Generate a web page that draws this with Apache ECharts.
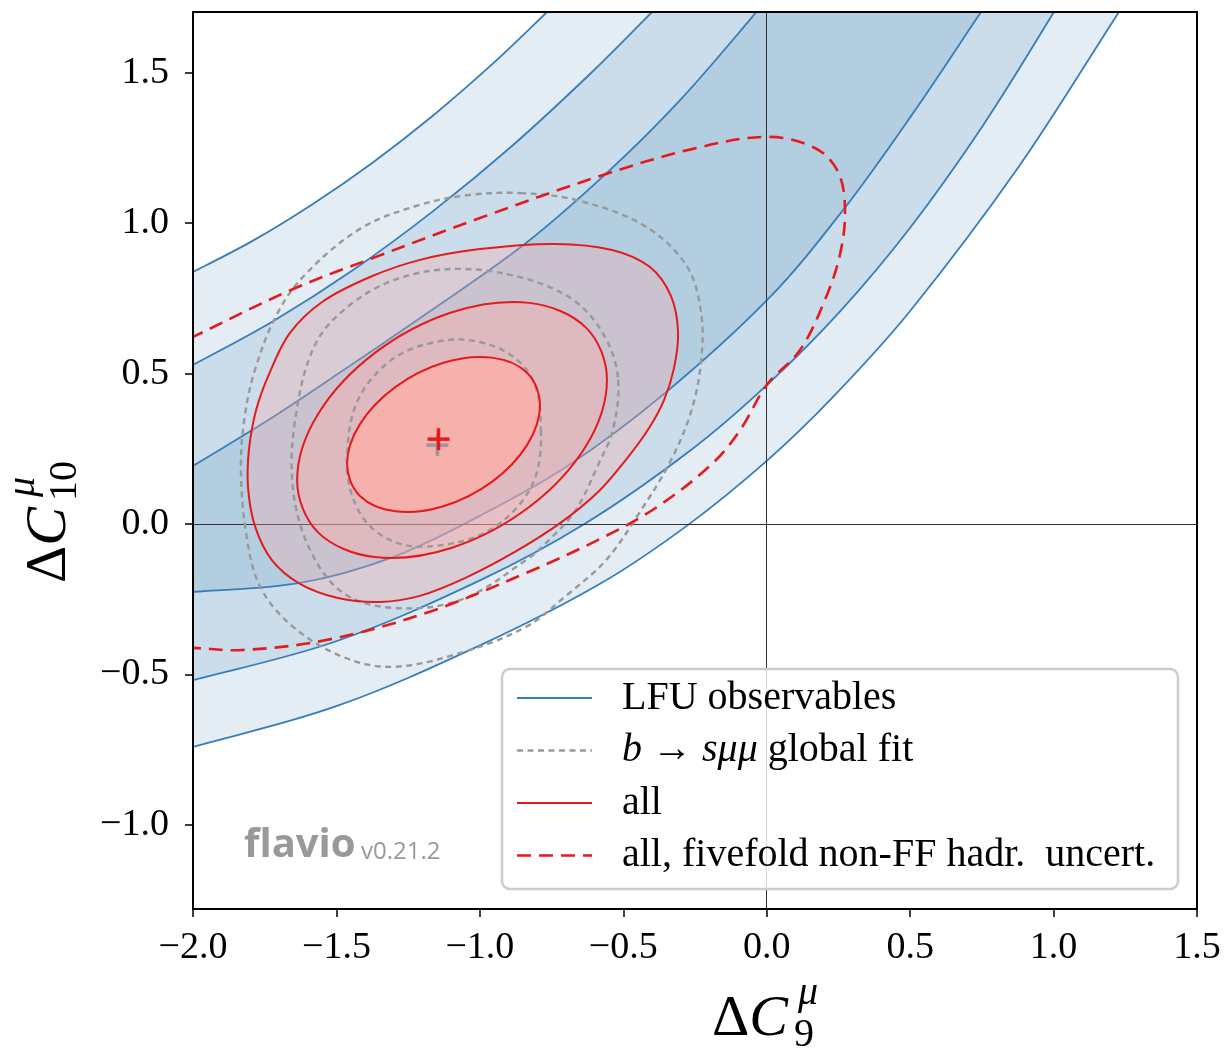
<!DOCTYPE html>
<html>
<head>
<meta charset="utf-8">
<title>LFU observables / b→sμμ fit</title>
<script src="https://cdn.jsdelivr.net/npm/echarts@6/dist/echarts.min.js"></script>
<style>
  html, body { margin: 0; padding: 0; background: #fff; }
  #chart { width: 1224px; height: 1051px; }
</style>
</head>
<body>
<div id="chart"></div>
<script>
var xTicks = [-2, -1.5, -1, -0.5, 0, 0.5, 1, 1.5];
var yTicks = [-1, -0.5, 0, 0.5, 1, 1.5];

// LFU observables: band edges, upper-left side (3σ, 2σ, 1σ)
var lfuA = [[-2.07,0.807],[-2,0.838],[-1.791,0.942],[-1.582,1.064],[-1.373,1.202],[-1.163,1.358],[-0.954,1.531],[-0.766,1.702],[-0.675,1.788]];
var lfuB = [[-2.07,0.496],[-2,0.529],[-1.721,0.674],[-1.442,0.844],[-1.163,1.040],[-0.884,1.260],[-0.606,1.505],[-0.400,1.702],[-0.292,1.811]];
var lfuC = [[-2.07,0.150],[-2,0.193],[-1.75,0.338],[-1.501,0.495],[-1.188,0.698],[-0.839,0.934],[-0.546,1.177],[-0.302,1.409],[-0.051,1.685],[0.050,1.805]];
// lower-right side (1σ, 2σ, 3σ)
var lfuD = [[-2.07,-0.229],[-2,-0.226],[-1.627,-0.196],[-1.303,-0.110],[-1.000,0.027],[-0.700,0.189],[-0.362,0.429],[0.005,0.748],[0.269,1.047],[0.506,1.360],[0.747,1.702],[0.813,1.795]];
var lfuE = [[-2.07,-0.532],[-2,-0.519],[-1.498,-0.389],[-0.996,-0.186],[-0.630,0.003],[-0.264,0.246],[0.004,0.465],[0.255,0.706],[0.500,0.985],[0.754,1.325],[0.998,1.697],[1.085,1.841]];
var lfuF = [[-2.07,-0.755],[-2,-0.741],[-1.498,-0.605],[-0.996,-0.402],[-0.581,-0.199],[-0.274,-0.003],[0.004,0.213],[0.228,0.419],[0.500,0.708],[0.876,1.184],[1.228,1.702],[1.301,1.809]];

// b -> s mu mu global fit (1σ, 2σ, 3σ)
var globIn = [[-0.787,0.313],[-0.804,0.163],[-0.878,0.047],[-1.000,-0.037],[-1.156,-0.073],[-1.278,-0.066],[-1.383,-0.007],[-1.446,0.096],[-1.463,0.229],[-1.425,0.412],[-1.303,0.549],[-1.139,0.608],[-1.000,0.605],[-0.878,0.552],[-0.808,0.462]];
var globMid = [[-0.518,0.479],[-0.536,0.313],[-0.588,0.196],[-0.665,0.047],[-0.750,-0.045],[-0.839,-0.120],[-1.069,-0.253],[-1.303,-0.279],[-1.477,-0.229],[-1.592,-0.086],[-1.651,0.113],[-1.644,0.346],[-1.575,0.595],[-1.453,0.728],[-1.278,0.818],[-1.069,0.848],[-0.839,0.815],[-0.665,0.738],[-0.560,0.615]];
var globOut = [[-0.860,1.100],[-0.665,1.077],[-0.431,0.994],[-0.281,0.861],[-0.229,0.705],[-0.229,0.539],[-0.264,0.372],[-0.337,0.206],[-0.442,0.040],[-0.560,-0.120],[-0.700,-0.239],[-0.839,-0.342],[-1.069,-0.429],[-1.303,-0.475],[-1.477,-0.442],[-1.651,-0.342],[-1.766,-0.209],[-1.815,-0.030],[-1.833,0.189],[-1.819,0.362],[-1.784,0.512],[-1.714,0.685],[-1.617,0.821],[-1.418,0.981],[-1.209,1.061],[-1.034,1.094]];

// all (1σ, 2σ, 3σ)
var allIn = [[-0.790,0.396],[-0.835,0.263],[-0.958,0.140],[-1.127,0.059],[-1.295,0.042],[-1.418,0.093],[-1.463,0.199],[-1.418,0.332],[-1.295,0.455],[-1.127,0.536],[-0.958,0.553],[-0.835,0.502]];
var allMid = [[-0.557,0.479],[-0.629,0.261],[-0.827,0.057],[-1.097,-0.079],[-1.367,-0.110],[-1.565,-0.027],[-1.637,0.146],[-1.565,0.364],[-1.367,0.568],[-1.097,0.704],[-0.827,0.735],[-0.629,0.652]];
var allOut = [[-0.738,0.931],[-0.539,0.911],[-0.407,0.854],[-0.334,0.758],[-0.309,0.638],[-0.323,0.519],[-0.358,0.412],[-0.414,0.313],[-0.491,0.213],[-0.588,0.106],[-0.714,0.007],[-0.878,-0.093],[-1.052,-0.180],[-1.209,-0.239],[-1.348,-0.259],[-1.495,-0.246],[-1.627,-0.199],[-1.725,-0.120],[-1.784,-0.007],[-1.808,0.120],[-1.805,0.246],[-1.780,0.379],[-1.732,0.505],[-1.662,0.635],[-1.550,0.738],[-1.383,0.821],[-1.209,0.878],[-1.000,0.914]];

// all, fivefold non-FF hadronic uncertainties
var allFive = [[-2.08,0.585],[-2.000,0.622],[-1.651,0.781],[-1.362,0.888],[-1.000,1.017],[-0.571,1.160],[-0.257,1.247],[0.000,1.287],[0.168,1.250],[0.249,1.170],[0.273,1.044],[0.255,0.894],[0.203,0.745],[0.116,0.578],[0.000,0.462],[-0.090,0.316],[-0.184,0.206],[-0.372,0.063],[-0.567,-0.043],[-0.839,-0.163],[-1.188,-0.296],[-1.536,-0.386],[-1.826,-0.419],[-2.000,-0.412],[-2.08,-0.409]];

var bestAll = [-1.144, 0.282];
var bestGlobal = [-1.148, 0.262];

var legendLabels = ['LFU observables', '{i|b} \u2192 {i|s\u03bc\u03bc} global fit', 'all', 'all, fivefold non-FF hadr.  uncert.'];

var BLUE = '#377eb8', RED = '#e41a1c', GRAY = '#999999';
var SERIF = "'Liberation Serif', 'DejaVu Serif', serif";

function band(a, b) { return a.concat(b.slice().reverse()); }

function shape(name, pts, z, closed, style) {
  return {
    type: 'custom',
    name: name,
    z: z,
    silent: true,
    clip: true,
    data: [pts[0]],
    encode: { x: 0, y: 1 },
    renderItem: function (params, api) {
      return {
        type: closed ? 'polygon' : 'polyline',
        shape: { points: pts.map(function (p) { return api.coord(p); }), smooth: 0.35 },
        style: style
      };
    }
  };
}

function plus(name, pt, color, z) {
  return {
    type: 'custom', name: name, z: z, silent: true, clip: true,
    data: [pt], encode: { x: 0, y: 1 },
    renderItem: function (params, api) {
      var c = api.coord([api.value(0), api.value(1)]);
      var h = 11;
      return {
        type: 'group',
        children: [
          { type: 'line', shape: { x1: c[0] - h, y1: c[1], x2: c[0] + h, y2: c[1] }, style: { stroke: color, lineWidth: 3.5 } },
          { type: 'line', shape: { x1: c[0], y1: c[1] - h, x2: c[0], y2: c[1] + h }, style: { stroke: color, lineWidth: 3.5 } }
        ]
      };
    }
  };
}

function line(style) { return Object.assign({ fill: 'none' }, style); }

var blueLine = { stroke: BLUE, lineWidth: 1.8 };
var grayLine = { stroke: GRAY, lineWidth: 2.4, lineDash: [6, 4.5] };
var redLine = { stroke: RED, lineWidth: 2 };
var redDash = { stroke: RED, lineWidth: 2.6, lineDash: [14, 8] };

var fmt = function (v) {
  return (v < -1e-9 ? '\u2212' : '') + Math.abs(v).toFixed(1);
};

var series = [
  shape('LFU 3σ', band(lfuA, lfuF), 1, true, { fill: '#e4ecf4' }),
  shape('LFU 2σ', band(lfuB, lfuE), 2, true, { fill: '#cbdcea' }),
  shape('LFU 1σ', band(lfuC, lfuD), 3, true, { fill: '#b3cde1' })
];
[lfuA, lfuB, lfuC, lfuD, lfuE, lfuF].forEach(function (l, i) {
  series.push(shape('LFU line ' + i, l, 4, false, line(blueLine)));
});
series.push(shape('all 3σ fill', allOut, 5, true, { fill: 'rgba(255,170,165,0.3)' }));
series.push(shape('all 2σ fill', allMid, 5, true, { fill: 'rgba(255,170,165,0.38)' }));
series.push(shape('all 1σ fill', allIn, 5, true, { fill: 'rgba(250,176,170,0.9)' }));
[globOut, globMid, globIn].forEach(function (l, i) {
  series.push(shape('global ' + i, l, 6, true, line(grayLine)));
});
[allOut, allMid, allIn].forEach(function (l, i) {
  series.push(shape('all ' + i, l, 7, true, line(redLine)));
});
series.push(shape('all fivefold', allFive, 8, false, line(redDash)));
series.push({
  type: 'line', name: 'zero', data: [], z: 9, silent: true,
  markLine: {
    silent: true, symbol: 'none', animation: false,
    label: { show: false },
    lineStyle: { color: '#333', width: 1, type: 'solid' },
    data: [{ xAxis: 0 }, { yAxis: 0 }]
  }
});
series.push(plus('best global', bestGlobal, GRAY, 10));
series.push(plus('best all', bestAll, RED, 11));

// legend drawn as graphic
var legY = [698, 750.5, 803, 855.5];
var legStyles = [blueLine, grayLine, redLine, redDash];
var graphic = [
  { type: 'rect', z: 100, shape: { x: 502, y: 669, width: 676, height: 220, r: 8 },
    style: { fill: 'rgba(255,255,255,0.8)', stroke: '#cccccc', lineWidth: 2.5 } }
];
legY.forEach(function (y, i) {
  graphic.push({ type: 'line', z: 101, shape: { x1: 517, y1: y, x2: 592, y2: y }, style: legStyles[i] });
  graphic.push({ type: 'text', z: 101, style: {
    text: legendLabels[i], x: 622, y: y, align: 'left', verticalAlign: 'middle',
    fill: '#000', fontFamily: SERIF, fontSize: 40,
    rich: { i: { fontStyle: 'italic', fontFamily: SERIF, fontSize: 40 } }
  } });
});
// watermark
graphic.push({ type: 'text', z: 101, style: { text: 'flavio', x: 244, y: 846, verticalAlign: 'middle',
  fill: '#999', fontFamily: "'Open Sans', sans-serif", fontWeight: 'bold', fontSize: 40 } });
graphic.push({ type: 'text', z: 101, style: { text: 'v0.21.2', x: 361, y: 852, verticalAlign: 'middle',
  fill: '#999', fontFamily: "'Open Sans', sans-serif", fontSize: 24 } });
// axis titles
var titleRich = {
  u: { fontFamily: SERIF, fontSize: 58 },
  i: { fontFamily: SERIF, fontSize: 58, fontStyle: 'italic' }
};
graphic.push({ type: 'group', x: 712, y: 1020, children: [
  { type: 'text', style: { text: '{u|\u0394}{i|C}', x: 0, y: 0, verticalAlign: 'middle', fill: '#000', rich: titleRich } },
  { type: 'text', style: { text: '\u03bc', x: 86, y: -27, verticalAlign: 'middle', fill: '#000', fontFamily: SERIF, fontStyle: 'italic', fontSize: 40 } },
  { type: 'text', style: { text: '9', x: 82, y: 15, verticalAlign: 'middle', fill: '#000', fontFamily: SERIF, fontSize: 40 } }
] });
graphic.push({ type: 'group', x: 50, y: 583, rotation: Math.PI / 2, children: [
  { type: 'text', style: { text: '{u|\u0394}{i|C}', x: 0, y: 0, verticalAlign: 'middle', fill: '#000', rich: titleRich } },
  { type: 'text', style: { text: '\u03bc', x: 86, y: -27, verticalAlign: 'middle', fill: '#000', fontFamily: SERIF, fontStyle: 'italic', fontSize: 40 } },
  { type: 'text', style: { text: '10', x: 82, y: 15, verticalAlign: 'middle', fill: '#000', fontFamily: SERIF, fontSize: 40 } }
] });

var frame = { show: true, onZero: false, lineStyle: { color: '#000', width: 2 } };
var labelStyle = { color: '#000', fontFamily: SERIF, fontSize: 38, formatter: fmt };

var chart = echarts.init(document.getElementById('chart'));
chart.setOption({
  animation: false,
  backgroundColor: '#fff',
  grid: { left: 193, top: 12, right: 27, bottom: 142, containLabel: false },
  xAxis: [
    { type: 'value', min: -2, max: 1.5, position: 'bottom', z: 20, axisLine: frame,
      axisTick: { show: true, length: 8, lineStyle: { color: '#000', width: 1.5 }, customValues: xTicks },
      axisLabel: Object.assign({ margin: 20, customValues: xTicks }, labelStyle),
      splitLine: { show: false } },
    { type: 'value', min: -2, max: 1.5, position: 'top', z: 20, axisLine: frame,
      axisTick: { show: false }, axisLabel: { show: false }, splitLine: { show: false } }
  ],
  yAxis: [
    { type: 'value', min: -1.28, max: 1.702, position: 'left', z: 20, axisLine: frame,
      axisTick: { show: true, length: 8, lineStyle: { color: '#000', width: 1.5 }, customValues: yTicks },
      axisLabel: Object.assign({ margin: 24, customValues: yTicks }, labelStyle),
      splitLine: { show: false } },
    { type: 'value', min: -1.28, max: 1.702, position: 'right', z: 20, axisLine: frame,
      axisTick: { show: false }, axisLabel: { show: false }, splitLine: { show: false } }
  ],
  series: series,
  graphic: graphic
});
</script>
</body>
</html>
